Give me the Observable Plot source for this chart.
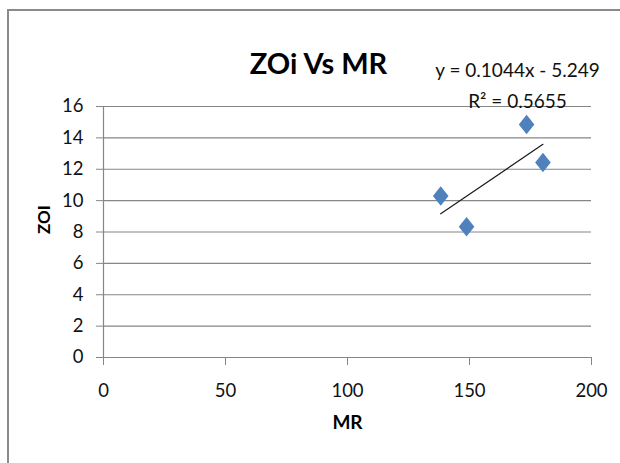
<!DOCTYPE html>
<html>
<head>
<meta charset="utf-8">
<script src="https://cdn.jsdelivr.net/npm/d3@7"></script>
<script src="https://cdn.jsdelivr.net/npm/@observablehq/plot@0.6"></script>
<style>
  html, body { margin: 0; padding: 0; background: #fff; }
  #wrap { position: relative; width: 620px; height: 463px; overflow: hidden; }
  #frame { position: absolute; left: 7px; top: 9px; width: 700px; height: 600px;
           border-left: 2.5px solid #8a8a8a; border-top: 2.5px solid #8a8a8a; pointer-events: none; }
  #chart { position: absolute; left: 0; top: 0; }
</style>
</head>
<body>
<div id="wrap"><div id="frame"></div><div id="chart"></div></div>
<script>
// Data
const mr  = [138.2, 148.8, 173.4, 180.1];
const zoi = [10.3, 8.34, 14.85, 12.43];
const xTicks = [0, 50, 100, 150, 200];
const yTicks = [0, 2, 4, 6, 8, 10, 12, 14, 16];
const chartTitle = "ZOi Vs MR";
const xLabel = "MR";
const yLabel = "ZOI";
const slope = 0.1044;
const intercept = -5.249;
const rSquared = 0.5655;

const points = mr.map((x, i) => ({x, y: zoi[i]}));
const eqText = `y = ${slope}x - ${Math.abs(intercept)}\nR² = ${rSquared}`;

const excelDiamond = {
  draw(ctx, size) {
    const hy = Math.sqrt(size / Math.PI);
    const hx = hy * 0.8;
    ctx.moveTo(0, -hy);
    ctx.lineTo(hx, 0);
    ctx.lineTo(0, hy);
    ctx.lineTo(-hx, 0);
    ctx.closePath();
  }
};

const grey = "#868686";
const plot = Plot.plot({
  width: 620,
  height: 463,
  marginLeft: 103,
  marginRight: 29,
  marginTop: 106,
  marginBottom: 106,
  style: {fontFamily: "Lato, 'Open Sans', sans-serif", fontSize: "18.5px", background: "transparent", color: "#111"},
  x: {domain: [0, 200], ticks: xTicks},
  y: {domain: [0, 16], ticks: yTicks},
  marks: [
    Plot.gridY(yTicks.filter(d => d > 0), {stroke: grey, strokeOpacity: 1, strokeWidth: 1.2}),
    Plot.ruleX([0], {stroke: grey, strokeWidth: 1.2}),
    Plot.ruleY([0], {stroke: grey, strokeWidth: 1.2}),
    Plot.axisX(xTicks, {tickSize: 8, tickPadding: 18, stroke: grey, fill: "#111", label: null}),
    Plot.axisY(yTicks, {tickSize: 7, tickPadding: 13, stroke: grey, fill: "#111", label: null}),
    Plot.linearRegressionY(points, {x: "x", y: "y", ci: 0, stroke: "#1a1a1a", strokeWidth: 1.2}),
    Plot.dot(points, {x: "x", y: "y", symbol: excelDiamond, r: 9.75, fill: "#4F81BD", stroke: "none"}),
    Plot.text([chartTitle], {frameAnchor: "top", dx: -29, dy: -53.5, fontSize: 29, fontWeight: "bold", fill: "#000"}),
    Plot.text([eqText], {frameAnchor: "top-right", textAnchor: "middle", dx: -74, dy: 1, lineAnchor: "bottom", lineHeight: 1.6, fontSize: 19, fill: "#111"}),
    Plot.text([xLabel], {frameAnchor: "bottom", dx: 0, dy: 71, fontSize: 19, fontWeight: "bold", fill: "#000"}),
    Plot.text([yLabel], {frameAnchor: "left", dx: -59, dy: 2, rotate: -90, fontSize: 17, fontWeight: "bold", fill: "#000"})
  ]
});
document.getElementById("chart").appendChild(plot);
</script>
</body>
</html>
